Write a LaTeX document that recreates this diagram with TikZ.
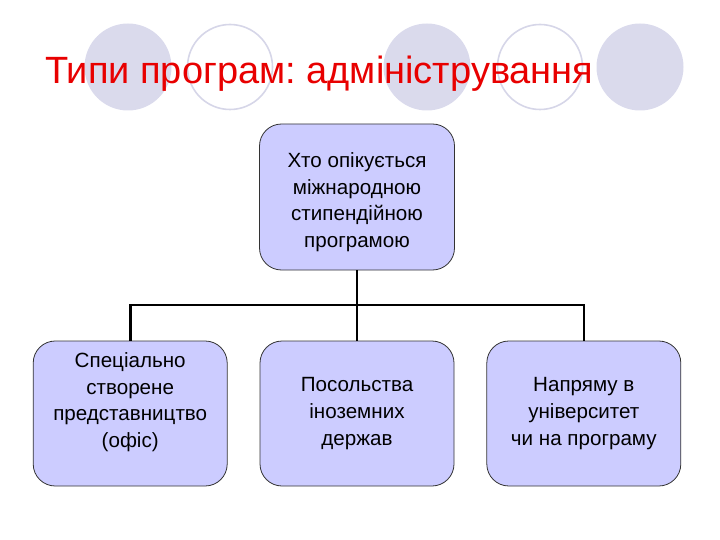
\documentclass[tikz,border=0pt]{standalone}
\usepackage{fontspec}
\setmainfont{Liberation Sans}
\usepackage{xcolor}
\usetikzlibrary{positioning}

\definecolor{boxfill}{RGB}{204,204,255}
\definecolor{dotfill}{RGB}{218,218,236}
\definecolor{dotline}{RGB}{214,214,232}
\definecolor{titlered}{RGB}{232,0,0}

\begin{document}
\frenchspacing
\begin{tikzpicture}[
  x=1pt, y=-1pt,
  box/.style={draw=black!80, line width=0.8pt, fill=boxfill, rounded corners=22pt,
    minimum width=194pt, minimum height=145pt, align=center,
    font=\fontsize{20.6}{26.7}\selectfont},
  link/.style={line width=2.6pt},
  dotfull/.style={fill=dotfill, draw=none},
  dotring/.style={draw=dotline, line width=1.6pt, fill=white},
]
\useasboundingbox (0,0) rectangle (720,540);

% --- decorative circles
\fill[dotfull] (128,67) circle[radius=43.5];
\filldraw[dotring] (230,67) circle[radius=42.5];
\fill[dotfull] (427,67) circle[radius=43.5];
\filldraw[dotring] (540,67) circle[radius=42.5];
\fill[dotfull] (640,67) circle[radius=43.5];

% --- title
\node[anchor=base west, inner sep=0pt, text=titlered,
  font=\fontsize{38}{44}\selectfont] (title) at (45,84)
  {Типи програм: адміністрування};

% --- boxes
\node[box, minimum width=195pt, minimum height=146pt] (carer) at (357,197)
  {\rule{0pt}{25pt}Хто опікується\\ міжнародною\\ стипендійною\\ програмою};
\node[box] (embassy) at (357,413.5) {Посольства\\ іноземних\\ держав};
\node[box, left=32pt of embassy] (office)
  {Спеціально\\ створене\\ представництво\\ (офіс)\\ \mbox{}};
\node[box, right=32pt of embassy] (direct)
  {Напряму в\\ університет\\ чи на програму};

% --- connectors
\coordinate (bus) at (357,305);
\draw[link] (carer.south) -- (bus);
\draw[link] (office.north) |- (bus) -| (direct.north);
\draw[link] (bus) -- (embassy.north);

\end{tikzpicture}
\end{document}
